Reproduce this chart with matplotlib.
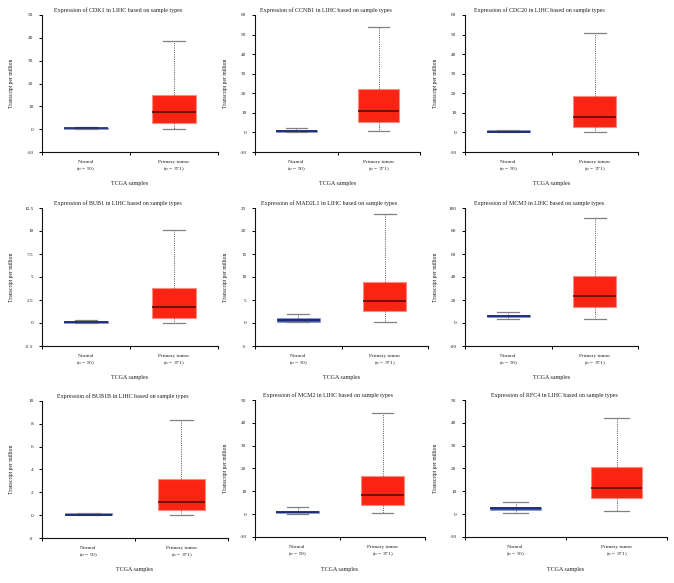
import matplotlib
matplotlib.use('Agg')
import matplotlib.pyplot as plt
from matplotlib.ticker import MultipleLocator, FuncFormatter, FixedLocator

plt.rcParams['font.family'] = ['Liberation Serif', 'DejaVu Serif']
plt.rcParams['mathtext.fontset'] = 'custom'
plt.rcParams['mathtext.it'] = 'Liberation Serif:italic'
plt.rcParams['mathtext.rm'] = 'Liberation Serif'

# data (TPM)
genes = ['CDK1', 'CCNB1', 'CDC20', 'BUB1', 'MAD2L1', 'MCM3', 'BUB1B', 'MCM2', 'RFC4']
groups = ['Normal', 'Primary tumor']
group_n = [50, 371]

normal_lo = [0.0, 0.1, 0.0, 0.0, 0.2, 3.2, 0.0, 0.1, 0.7]
normal_q1 = [0.0, 0.3, 0.2, 0.0, 0.3, 5.0, 0.0, 0.4, 1.9]
normal_med = [0.3, 0.8, 0.4, 0.1, 0.7, 6.0, 0.05, 0.9, 2.5]
normal_q3 = [0.6, 1.2, 1.0, 0.2, 1.0, 7.0, 0.15, 1.3, 3.1]
normal_hi = [1.1, 2.5, 1.2, 0.3, 2.0, 9.6, 0.2, 3.2, 5.2]

tumor_lo = [0.0, 0.5, 0.1, 0.0, 0.2, 3.8, 0.0, 0.4, 1.5]
tumor_q1 = [2.9, 5.3, 2.9, 0.58, 2.55, 13.9, 0.47, 4.1, 7.1]
tumor_med = [7.3, 11.2, 7.7, 1.7, 4.7, 23.8, 1.17, 8.5, 11.6]
tumor_q3 = [15.0, 22.1, 18.6, 3.85, 9.0, 40.9, 3.15, 16.8, 20.5]
tumor_hi = [38.5, 53.7, 51.0, 10.1, 23.8, 91.3, 8.3, 44.3, 42.2]

y_min = [-10, -10, -10, -2.5, -5, -20, -2, -10, -10]
y_max = [50, 60, 60, 12.5, 25, 100, 10, 50, 50]
y_step = [10, 10, 10, 2.5, 5, 20, 2, 10, 10]

W, H = 674, 583
fig = plt.figure(figsize=(W / 100, H / 100), dpi=100)

# axes boxes in pixels: left, top, right, bottom
boxes = [(42, 15, 218, 152), (255, 15, 420, 152), (465, 15, 638, 152),
         (42, 208, 218, 346), (255, 208, 428, 346), (465, 208, 638, 346),
         (42, 401, 228, 538), (255, 400, 425, 537), (465, 400, 667, 537)]

txt = '#1e1e1e'
for i, g in enumerate(genes):
    l, t, r, b = boxes[i]
    ax = fig.add_axes([l / W, 1 - b / H, (r - l) / W, (b - t) / H])
    stats = [
        dict(whislo=normal_lo[i], q1=normal_q1[i], med=normal_med[i],
             q3=normal_q3[i], whishi=normal_hi[i], fliers=[]),
        dict(whislo=tumor_lo[i], q1=tumor_q1[i], med=tumor_med[i],
             q3=tumor_q3[i], whishi=tumor_hi[i], fliers=[]),
    ]
    bp = ax.bxp(stats, positions=[0.5, 1.5], widths=0.5, capwidths=0.25,
                patch_artist=True, showfliers=False)
    bp['boxes'][0].set(facecolor='#3f55a8', edgecolor='#8b97c9', linewidth=0.6)
    bp['boxes'][1].set(facecolor='#fa2412', edgecolor='#ff8a80', linewidth=0.8)
    bp['medians'][0].set(color='#16246e', linewidth=1.2)
    bp['medians'][1].set(color='#5a0c06', linewidth=1.2)
    for w in bp['whiskers']:
        w.set(color='#555555', linewidth=0.7, linestyle=(0, (1.0, 1.3)))
    for c in bp['caps']:
        c.set(color='#808080', linewidth=0.9)

    ax.set_xlim(0, 2)
    ax.set_ylim(y_min[i], y_max[i])
    ax.yaxis.set_major_locator(MultipleLocator(y_step[i]))
    ax.yaxis.set_major_formatter(FuncFormatter(lambda v, p: '{:g}'.format(v)))
    ax.xaxis.set_major_locator(FixedLocator([0, 1, 2]))
    ax.xaxis.set_major_formatter(FuncFormatter(lambda v, p: ''))
    ax.xaxis.set_minor_locator(FixedLocator([0.5, 1.5]))
    ax.set_xticklabels([f'{groups[k]}\n($\\it{{n}}$ = {group_n[k]})' for k in range(2)],
                       minor=True)
    ax.tick_params(axis='x', which='minor', length=0, pad=6, labelsize=3.9, labelcolor=txt)
    ax.tick_params(axis='both', which='major', length=2.2, width=0.7, labelsize=3.8,
                   labelcolor=txt, direction='out', pad=4)
    for s in ['top', 'right']:
        ax.spines[s].set_visible(False)
    for s in ['left', 'bottom']:
        ax.spines[s].set_linewidth(0.8)
        ax.spines[s].set_color('#111111')

    fig.text((l - 30) / W, 1 - (t + b) / 2 / H, 'Transcript per million', rotation=90,
             ha='center', va='center', fontsize=4.1, color=txt)
    fig.text((l + r) / 2 / W, 1 - (b + 32) / H, 'TCGA samples', ha='center',
             va='center', fontsize=4.3, color=txt)
    fig.text(((l + r) / 2 - 12) / W, 1 - (t - 5) / H,
             f'Expression of {g} in LIHC based on sample types', ha='center',
             va='center', fontsize=4.3, color=txt)

fig.savefig('out.png', dpi=100)
